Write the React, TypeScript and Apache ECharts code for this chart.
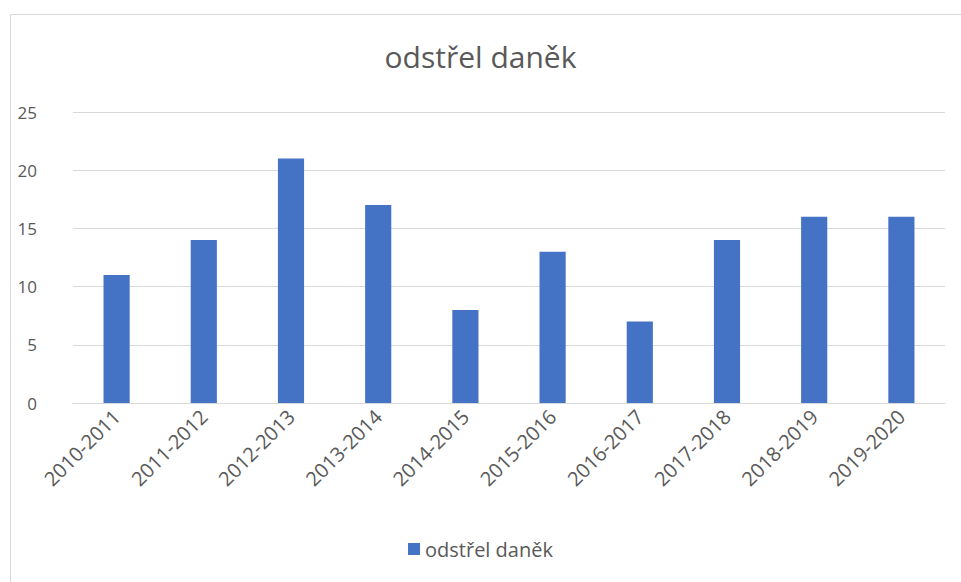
import React, { useEffect, useRef } from "react";
import * as echarts from "echarts";

const categories = ["2010-2011", "2011-2012", "2012-2013", "2013-2014", "2014-2015", "2015-2016", "2016-2017", "2017-2018", "2018-2019", "2019-2020"];
const values = [11, 14, 21, 17, 8, 13, 7, 14, 16, 16];
const seriesName = "odstřel daněk";
const titleText = "odstřel daněk";

export default function App() {
  const ref = useRef<HTMLDivElement>(null);
  useEffect(() => {
    if (!ref.current) return;
    const chart = echarts.init(ref.current, null, { renderer: "svg" });
    const font = "'Open Sans', 'Noto Sans', sans-serif";
    chart.setOption({
      animation: false,
      backgroundColor: "#ffffff",
      textStyle: { fontFamily: font },
      graphic: [
        {
          type: "rect",
          shape: { x: 10.5, y: 14.5, width: 960, height: 570 },
          style: { fill: "none", stroke: "#d9d9d9", lineWidth: 1 },
          silent: true,
        },
      ],
      title: {
        text: titleText,
        left: "center",
        top: 36,
        textStyle: { fontFamily: font, fontSize: 30, fontWeight: "normal", color: "#595959" },
      },
      legend: {
        data: [seriesName],
        bottom: 18,
        left: "center",
        icon: "rect",
        itemWidth: 12,
        itemHeight: 12,
        itemGap: 5,
        textStyle: { fontFamily: font, fontSize: 20, color: "#595959" },
      },
      grid: { left: 73, right: 16, top: 112, bottom: 179, containLabel: false },
      xAxis: {
        type: "category",
        data: categories,
        axisLine: { show: true, lineStyle: { color: "#d9d9d9" } },
        axisTick: { show: false },
        axisLabel: { rotate: 45, fontSize: 20, color: "#595959", margin: 10, interval: 0, fontFamily: font },
      },
      yAxis: {
        type: "value",
        min: 0,
        max: 25,
        interval: 5,
        axisLine: { show: false },
        axisTick: { show: false },
        splitLine: { lineStyle: { color: "#d9d9d9" } },
        axisLabel: { fontSize: 17, color: "#595959", margin: 36, fontFamily: font },
      },
      series: [
        {
          name: seriesName,
          type: "bar",
          data: values,
          barWidth: "30%",
          itemStyle: { color: "#4472c4" },
        },
      ],
    });
    return () => chart.dispose();
  }, []);
  return <div ref={ref} style={{ position: "fixed", left: 0, top: 0, width: 961, height: 582 }} />;
}
